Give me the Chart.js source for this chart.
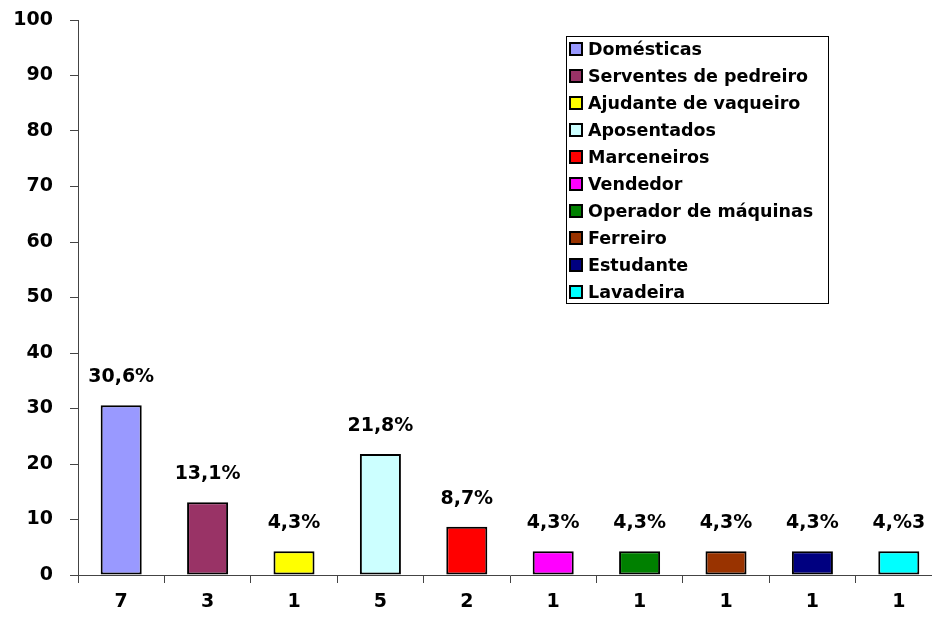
<!DOCTYPE html>
<html>
<head>
<meta charset="utf-8">
<script src="https://cdn.jsdelivr.net/npm/chart.js@4/dist/chart.umd.min.js"></script>
<style>
html,body{margin:0;padding:0;background:#fff;overflow:hidden;width:932px;height:618px;}
#wrap{width:945px;height:618px;}
</style>
</head>
<body>
<div id="wrap"><canvas id="c" width="945" height="618"></canvas></div>
<script>
const categories = ["Domésticas","Serventes de pedreiro","Ajudante de vaqueiro","Aposentados","Marceneiros","Vendedor","Operador de máquinas","Ferreiro","Estudante","Lavadeira"];
const counts = ["7","3","1","5","2","1","1","1","1","1"];
const percentValues = [30.6,13.1,4.3,21.8,8.7,4.3,4.3,4.3,4.3,4.3];
const valueLabels = ["30,6%","13,1%","4,3%","21,8%","8,7%","4,3%","4,3%","4,3%","4,3%","4,%3"];
const colors = ["#9999FF","#993366","#FFFF00","#CCFFFF","#FF0000","#FF00FF","#008000","#993300","#000080","#00FFFF"];
const yTicks = [0,10,20,30,40,50,60,70,80,90,100];

const FONT = "'DejaVu Sans', Verdana, sans-serif";

const valueLabelPlugin = {
  id: 'valueLabels',
  afterDatasetsDraw(chart) {
    const ctx = chart.ctx;
    const meta = chart.getDatasetMeta(0);
    ctx.save();
    ctx.font = "bold 19px " + FONT;
    ctx.fillStyle = "#000";
    ctx.textAlign = "center";
    ctx.textBaseline = "middle";
    meta.data.forEach((bar, i) => {
      ctx.fillText(valueLabels[i], bar.x, bar.y - 28);
    });
    ctx.restore();
  }
};

const boxLegendPlugin = {
  id: 'boxLegend',
  afterDraw(chart) {
    const ctx = chart.ctx;
    const x0 = 566.5, y0 = 36.5, w = 262, h = 267;
    ctx.save();
    ctx.fillStyle = "#fff";
    ctx.fillRect(x0, y0, w, h);
    ctx.strokeStyle = "#000";
    ctx.lineWidth = 1;
    ctx.strokeRect(x0, y0, w, h);
    ctx.font = "bold 17.5px " + FONT;
    ctx.textAlign = "left";
    ctx.textBaseline = "middle";
    categories.forEach((name, i) => {
      const cy = 49 + i * 27;
      ctx.fillStyle = colors[i];
      ctx.fillRect(570, cy - 6, 12, 12);
      ctx.strokeStyle = "#000";
      ctx.lineWidth = 2;
      ctx.strokeRect(570, cy - 6, 12, 12);
      ctx.fillStyle = "#000";
      ctx.fillText(name, 588, cy + 1);
    });
    ctx.restore();
  }
};

new Chart(document.getElementById('c'), {
  type: 'bar',
  data: {
    labels: counts,
    datasets: [{
      data: percentValues,
      backgroundColor: colors,
      borderColor: "#000",
      borderWidth: 2,
      borderSkipped: false,
      barPercentage: 0.95,
      categoryPercentage: 0.5
    }]
  },
  options: {
    responsive: false,
    animation: false,
    devicePixelRatio: 1,
    layout: { padding: { top: 20, right: 3, left: 0, bottom: 0 } },
    plugins: {
      legend: { display: false },
      tooltip: { enabled: false }
    },
    scales: {
      x: {
        offset: true,
        grid: { offset: true, drawOnChartArea: false, drawTicks: true, tickLength: 8, color: "#444", lineWidth: 1 },
        border: { display: true, color: "#444", width: 1 },
        ticks: { color: "#000", font: { family: FONT, size: 19, weight: 'bold' }, padding: 8, maxRotation: 0 },
        afterFit(scale) { scale.height = 43; scale.paddingLeft = 0; scale.paddingRight = 0; }
      },
      y: {
        min: 0, max: 100,
        afterBuildTicks(scale) { scale.ticks = yTicks.map(v => ({ value: v })); },
        grid: { drawOnChartArea: false, drawTicks: true, tickLength: 8, color: "#444", lineWidth: 1 },
        border: { display: true, color: "#444", width: 1 },
        ticks: { color: "#000", font: { family: FONT, size: 19, weight: 'bold' }, padding: 17 },
        afterFit(scale) { scale.width = 78; scale.paddingTop = 0; scale.paddingBottom = 0; }
      }
    }
  },
  plugins: [valueLabelPlugin, boxLegendPlugin]
});
</script>
</body>
</html>
